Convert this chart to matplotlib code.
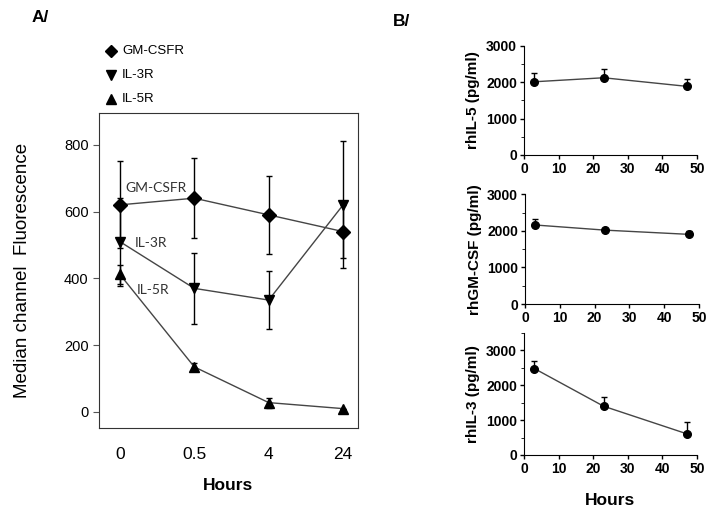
import matplotlib.pyplot as plt
import numpy as np
from matplotlib.ticker import MultipleLocator

plt.rcParams['font.family'] = ['Liberation Sans', 'DejaVu Sans']

# panel A: receptor expression
hours_a = ["0", "0.5", "4", "24"]
gmcsfr = [620, 640, 590, 540]
gmcsfr_err = [130, 120, 116, 80]
il3r = [510, 370, 335, 620]
il3r_err = [132, 107, 88, 190]
il5r = [412, 135, 28, 10]
il5r_err = [28, 12, 15, 0]

# panel B: cytokine concentrations
hours_b = [3, 23, 47]
rhil5 = [2010, 2120, 1885]
rhil5_err = [240, 230, 200]
rhgmcsf = [2160, 2020, 1905]
rhgmcsf_err = [160, 0, 100]
rhil3 = [2480, 1400, 610]
rhil3_err = [220, 260, 350]

fig = plt.figure(figsize=(7.21, 5.12), dpi=100)
line_col = "#454545"

ax = fig.add_axes([99/721, 1-428/512, 259/721, 315/512])
xs = np.arange(len(hours_a))
for vals, err, mk in [(gmcsfr, gmcsfr_err, "D"), (il3r, il3r_err, "v"), (il5r, il5r_err, "^")]:
    ax.errorbar(xs, vals, yerr=err, fmt="none", ecolor="black", elinewidth=1, capsize=2, capthick=1, zorder=2)
    ax.plot(xs, vals, "-", color=line_col, lw=1, zorder=3)
    ax.plot(xs, vals, mk, color="black", ms=7.5 if mk != "D" else 7, zorder=4)
ax.set_xlim(-0.28, 3.2)
ax.set_ylim(-48, 895)
ax.set_xticks(xs)
ax.set_xticklabels(hours_a, fontsize=12.5)
ax.set_yticks([0, 200, 400, 600, 800])
ax.tick_params(axis="y", labelsize=10.5, direction="out", length=4, color="#555555")
ax.tick_params(axis="x", length=0, pad=14)
for s in ax.spines.values():
    s.set_color("#333333")
ax.set_xlabel("Hours", fontsize=12.5, fontweight="bold", labelpad=11)
ax.set_ylabel("Median channel  Fluorescence", fontsize=13.5, labelpad=24)
lab_font = dict(family=["Lato", "DejaVu Sans"], fontsize=10, color="#333333")
ax.text(0.08, 670, "GM-CSFR", ha="left", va="center", **lab_font)
ax.text(0.2, 505, "IL-3R", ha="left", va="center", **lab_font)
ax.text(0.23, 365, "IL-5R", ha="left", va="center", **lab_font)

# legend above the box
leg_items = [("D", "GM-CSFR", 51, 6), ("v", "IL-3R", 75, 7), ("^", "IL-5R", 99, 7)]
for mk, name, ypix, ms in leg_items:
    fig.lines.append(plt.Line2D([111/721], [1-ypix/512], marker=mk, color="black", ms=ms,
                                ls="none", transform=fig.transFigure))
    fig.text(122/721, 1-ypix/512, name, fontsize=9.5, va="center", ha="left")

fig.text(32/721, 1-18/512, "A/", fontsize=12.5, fontweight="bold", va="center")
fig.text(393/721, 1-22/512, "B/", fontsize=12.5, fontweight="bold", va="center")

# panel B axes
b_specs = [
    (rhil5, rhil5_err, "rhIL-5 (pg/ml)", [524/721, 1-155/512, 173/721, 109.3/512], 3000),
    (rhgmcsf, rhgmcsf_err, "rhGM-CSF (pg/ml)", [525/721, 1-304/512, 174/721, 109.7/512], 3000),
    (rhil3, rhil3_err, "rhIL-3 (pg/ml)", [524/721, 1-455/512, 173/721, 122/512], 3500),
]
for vals, err, lab, rect, ytop in b_specs:
    bx = fig.add_axes(rect)
    bx.errorbar(hours_b, vals, yerr=[np.zeros(len(err)), err], fmt="none", ecolor="black",
                elinewidth=1, capsize=2, capthick=1, zorder=2)
    bx.plot(hours_b, vals, "-", color=line_col, lw=1, zorder=3)
    bx.plot(hours_b, vals, "o", color="black", ms=5.5, zorder=4)
    bx.set_xlim(0, 50)
    bx.set_ylim(0, ytop)
    bx.set_xticks([0, 10, 20, 30, 40, 50])
    bx.set_yticks([0, 1000, 2000, 3000])
    bx.yaxis.set_minor_locator(MultipleLocator(500))
    bx.spines["top"].set_visible(False)
    bx.spines["right"].set_visible(False)
    bx.tick_params(axis="both", which="major", labelsize=10, length=3, width=1, pad=2)
    bx.tick_params(axis="y", which="minor", length=2)
    for t in bx.get_xticklabels() + bx.get_yticklabels():
        t.set_fontweight("bold")
    bx.set_ylabel(lab, fontsize=11, fontweight="bold", labelpad=4)
    last = bx
last.set_xlabel("Hours", fontsize=12.5, fontweight="bold", labelpad=12)

fig.savefig("out.png", dpi=100)
